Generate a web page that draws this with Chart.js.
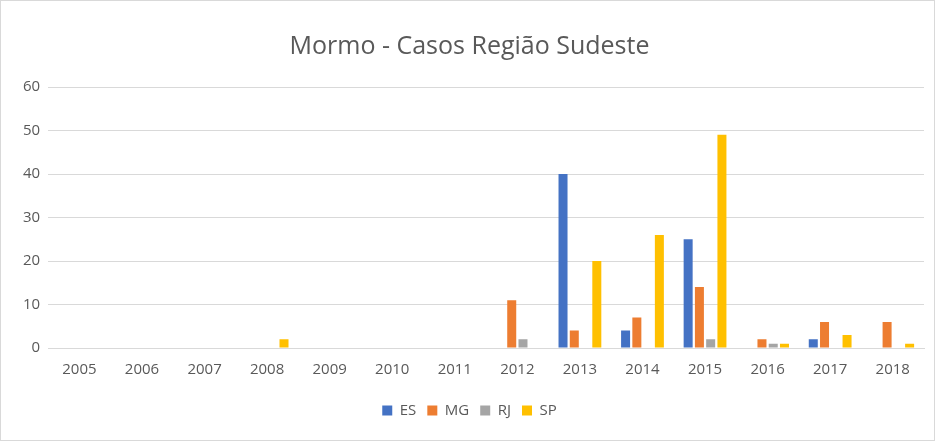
<!DOCTYPE html>
<html>
<head>
<meta charset="utf-8">
<script src="https://cdn.jsdelivr.net/npm/chart.js"></script>
<style>
  html, body { margin: 0; padding: 0; background: #fff; }
  #wrap { position: absolute; left: 0; top: 0; width: 933px; height: 439px; border: 1px solid #d9d9d9; }
</style>
</head>
<body>
<div id="wrap"><canvas id="chart"></canvas></div>
<script>
const years = ["2005","2006","2007","2008","2009","2010","2011","2012","2013","2014","2015","2016","2017","2018"];
const es = [0,0,0,0,0,0,0,0,40,4,25,0,2,0];
const mg = [0,0,0,0,0,0,0,11,4,7,14,2,6,6];
const rj = [0,0,0,0,0,0,0,2,0,0,2,1,0,0];
const sp = [0,0,0,2,0,0,0,0,20,26,49,1,3,1];

const font = "'Open Sans', 'Liberation Sans', sans-serif";
const grey = "#595959";

new Chart(document.getElementById("chart").getContext("2d"), {
  type: "bar",
  data: {
    labels: years,
    datasets: [
      { label: "ES", data: es, backgroundColor: "#4472c4" },
      { label: "MG", data: mg, backgroundColor: "#ed7d31" },
      { label: "RJ", data: rj, backgroundColor: "#a5a5a5" },
      { label: "SP", data: sp, backgroundColor: "#ffc000" }
    ]
  },
  options: {
    responsive: true,
    maintainAspectRatio: false,
    animation: false,
    layout: { padding: { left: 14, right: 10, top: 31, bottom: 12 } },
    datasets: { bar: { categoryPercentage: 0.72, barPercentage: 0.8, borderWidth: 0 } },
    plugins: {
      title: {
        display: true,
        text: "Mormo - Casos Região Sudeste",
        color: grey,
        font: { family: font, size: 25, weight: "normal" },
        padding: { top: 0, bottom: 25 }
      },
      legend: {
        position: "bottom",
        labels: { color: grey, font: { family: font, size: 15 }, boxWidth: 10, boxHeight: 10, padding: 11 }
      },
      tooltip: { enabled: false }
    },
    scales: {
      x: {
        grid: { display: false, drawTicks: false },
        border: { color: "#d9d9d9", width: 1 },
        ticks: { color: grey, font: { family: font, size: 15 }, padding: 13 }
      },
      y: {
        min: 0, max: 60,
        ticks: { stepSize: 10, color: grey, font: { family: font, size: 15 }, padding: 8 },
        grid: { color: "#d9d9d9", drawTicks: false },
        border: { display: false }
      }
    }
  }
});
</script>
</body>
</html>
